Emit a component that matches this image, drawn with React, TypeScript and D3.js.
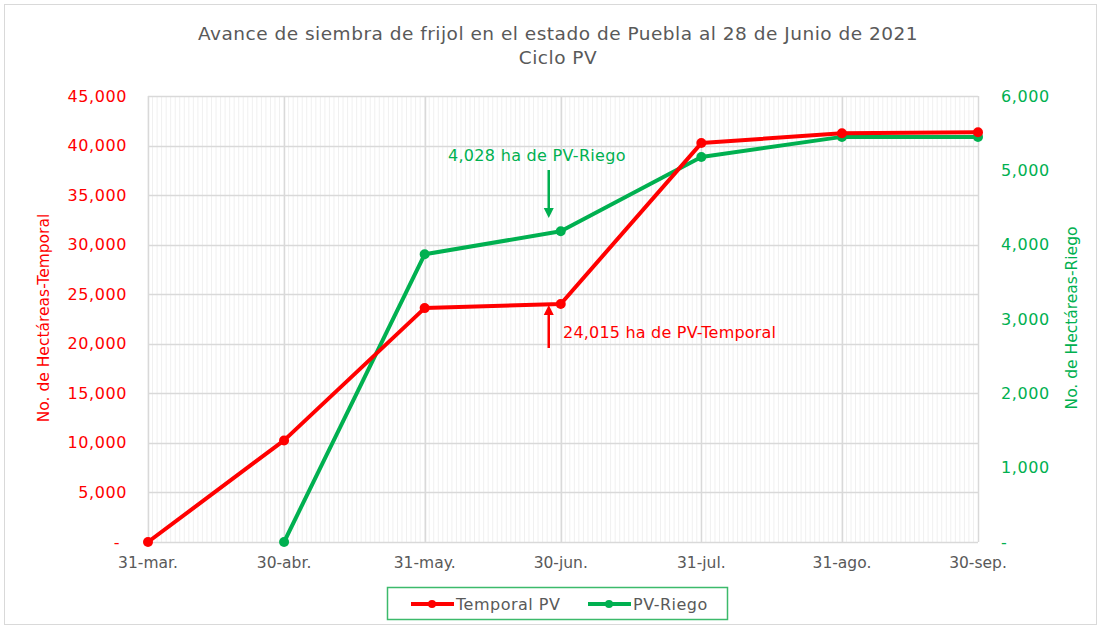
import * as d3 from 'd3';
import React, {useEffect, useRef} from 'react';

// fechas de corte (2021)
const fechas = ['2021-03-31', '2021-04-30', '2021-05-31', '2021-06-30', '2021-07-31', '2021-08-31', '2021-09-30'];
const etiquetas = ['31-mar.', '30-abr.', '31-may.', '30-jun.', '31-jul.', '31-ago.', '30-sep.'];

const temporal = [0, 10250, 23600, 24015, 40250, 41250, 41350];
const riegoFechas = ['2021-04-30', '2021-05-31', '2021-06-30', '2021-07-31', '2021-08-31', '2021-09-30'];
const riego = [0, 3870, 4180, 5180, 5450, 5450];

const ticksIzq = [0, 5000, 10000, 15000, 20000, 25000, 30000, 35000, 40000, 45000];
const ticksDer = [0, 1000, 2000, 3000, 4000, 5000, 6000];

const ROJO = '#ff0000';
const VERDE = '#00b050';
const GRIS = '#595959';
const FONT = 'DejaVu Sans, sans-serif';

const App = () => {
  const ref = useRef<SVGSVGElement>(null);

  useEffect(() => {
    const svg = d3.select(ref.current);
    svg.selectAll('*').remove();
    const W = 1101, H = 629;
    const m = {left: 148, right: 978, top: 96, bottom: 542};

    const parse = d3.timeParse('%Y-%m-%d');
    const dias = fechas.map(d => parse(d) as Date);

    const x = d3.scaleTime().domain([dias[0], dias[dias.length - 1]]).range([m.left, m.right]);
    const yL = d3.scaleLinear().domain([0, 45000]).range([m.bottom, m.top]);
    const yR = d3.scaleLinear().domain([0, 6000]).range([m.bottom, m.top]);

    // marco exterior
    svg.append('rect').attr('x', 4.5).attr('y', 4.5).attr('width', W - 9).attr('height', H - 9)
      .attr('fill', 'white').attr('stroke', '#d9d9d9');

    // rejilla menor diaria
    const g = svg.append('g');
    g.selectAll('line.minor').data(d3.timeDay.range(dias[0], dias[dias.length - 1]))
      .enter().append('line')
      .attr('x1', d => x(d)).attr('x2', d => x(d))
      .attr('y1', m.top).attr('y2', m.bottom)
      .attr('stroke', '#f0f0f0').attr('stroke-width', 1);

    g.selectAll('line.h').data(ticksIzq).enter().append('line')
      .attr('x1', m.left).attr('x2', m.right)
      .attr('y1', d => Math.round(yL(d)) + 0.5).attr('y2', d => Math.round(yL(d)) + 0.5)
      .attr('stroke', '#d9d9d9').attr('stroke-width', 1.5);

    g.selectAll('line.v').data(dias).enter().append('line')
      .attr('x1', d => Math.round(x(d)) + 0.5).attr('x2', d => Math.round(x(d)) + 0.5)
      .attr('y1', m.top).attr('y2', m.bottom)
      .attr('stroke', '#d9d9d9').attr('stroke-width', 1.5);

    const fmt = (v: number) => v === 0 ? '-' : d3.format(',')(v);

    // eje izquierdo
    svg.selectAll('text.yl').data(ticksIzq).enter().append('text')
      .attr('x', d => d === 0 ? 120 : 127).attr('y', d => yL(d)).attr('dy', '0.35em')
      .attr('text-anchor', 'end').attr('fill', ROJO)
      .style('font-family', FONT).style('font-size', '16px').style('letter-spacing', '0.6px').text(fmt);

    // eje derecho
    svg.selectAll('text.yr').data(ticksDer).enter().append('text')
      .attr('x', 1001).attr('y', d => yR(d)).attr('dy', '0.35em')
      .attr('text-anchor', 'start').attr('fill', VERDE)
      .style('font-family', FONT).style('font-size', '16px').style('letter-spacing', '0.6px').text(fmt);

    // eje x
    svg.selectAll('text.x').data(dias).enter().append('text')
      .attr('x', d => x(d)).attr('y', 568)
      .attr('text-anchor', 'middle').attr('fill', GRIS)
      .style('font-family', FONT).style('font-size', '15.5px')
      .text((d, i) => etiquetas[i]);

    // títulos de ejes
    svg.append('text').attr('transform', 'translate(49,318) rotate(-90)')
      .attr('text-anchor', 'middle').attr('fill', ROJO)
      .style('font-family', FONT).style('font-size', '15.5px').text('No. de Hectáreas-Temporal');
    svg.append('text').attr('transform', 'translate(1077,318) rotate(-90)')
      .attr('text-anchor', 'middle').attr('fill', VERDE)
      .style('font-family', FONT).style('font-size', '15.5px').text('No. de Hectáreas-Riego');

    // título
    svg.append('text').attr('x', 558).attr('y', 40).attr('text-anchor', 'middle')
      .attr('fill', GRIS).style('font-family', FONT).style('font-size', '18.5px').style('letter-spacing', '0.5px')
      .text('Avance de siembra de frijol en el estado de Puebla al 28 de Junio de 2021');
    svg.append('text').attr('x', 558).attr('y', 64).attr('text-anchor', 'middle')
      .attr('fill', GRIS).style('font-family', FONT).style('font-size', '18.5px').style('letter-spacing', '0.5px')
      .text('Ciclo PV');

    // series
    const serieT = dias.map((d, i) => ({d, v: temporal[i]}));
    const serieR = riegoFechas.map((d, i) => ({d: parse(d) as Date, v: riego[i]}));

    const lineT = d3.line<{d: Date, v: number}>().x(p => x(p.d)).y(p => yL(p.v));
    const lineR = d3.line<{d: Date, v: number}>().x(p => x(p.d)).y(p => yR(p.v));

    svg.append('path').datum(serieR).attr('d', lineR).attr('fill', 'none')
      .attr('stroke', VERDE).attr('stroke-width', 4).attr('stroke-linejoin', 'round');
    svg.selectAll('circle.r').data(serieR).enter().append('circle')
      .attr('cx', p => x(p.d)).attr('cy', p => yR(p.v)).attr('r', 5).attr('fill', VERDE);

    svg.append('path').datum(serieT).attr('d', lineT).attr('fill', 'none')
      .attr('stroke', ROJO).attr('stroke-width', 4).attr('stroke-linejoin', 'round');
    svg.selectAll('circle.t').data(serieT).enter().append('circle')
      .attr('cx', p => x(p.d)).attr('cy', p => yL(p.v)).attr('r', 5).attr('fill', ROJO);

    // anotaciones
    const xa = x(dias[3]) - 12;
    const flecha = (y1: number, y2: number, color: string) => {
      const dir = y2 > y1 ? 1 : -1;
      svg.append('line').attr('x1', xa).attr('x2', xa).attr('y1', y1).attr('y2', y2 - dir * 8)
        .attr('stroke', color).attr('stroke-width', 2.5);
      svg.append('path')
        .attr('d', `M${xa - 5},${y2 - dir * 10} L${xa + 5},${y2 - dir * 10} L${xa},${y2} Z`)
        .attr('fill', color);
    };
    flecha(170, 218, VERDE);
    flecha(348, 305, ROJO);

    svg.append('text').attr('x', 448).attr('y', 161).attr('fill', VERDE)
      .style('font-family', FONT).style('font-size', '16px').style('letter-spacing', '0.3px').text('4,028 ha de PV-Riego');
    svg.append('text').attr('x', 563).attr('y', 338).attr('fill', ROJO)
      .style('font-family', FONT).style('font-size', '16px').style('letter-spacing', '0.2px').text('24,015 ha de PV-Temporal');

    // leyenda
    const lg = svg.append('g');
    lg.append('rect').attr('x', 387.5).attr('y', 587.5).attr('width', 340).attr('height', 32)
      .attr('fill', 'white').attr('stroke', '#3cba6b').attr('stroke-width', 1.5);
    const items = [
      {t: 'Temporal PV', c: ROJO, x0: 411},
      {t: 'PV-Riego', c: VERDE, x0: 588},
    ];
    items.forEach(it => {
      lg.append('line').attr('x1', it.x0).attr('x2', it.x0 + 43).attr('y1', 604).attr('y2', 604)
        .attr('stroke', it.c).attr('stroke-width', 4);
      lg.append('circle').attr('cx', it.x0 + 21).attr('cy', 604).attr('r', 4).attr('fill', it.c);
      lg.append('text').attr('x', it.x0 + 45).attr('y', 604).attr('dy', '0.35em').attr('fill', GRIS)
        .style('font-family', FONT).style('font-size', '16px').style('letter-spacing', '0.5px').text(it.t);
    });
  }, []);

  return (
    <svg ref={ref} width={1101} height={629} style={{position: 'absolute', left: 0, top: 0}} />
  );
};

export default App;
